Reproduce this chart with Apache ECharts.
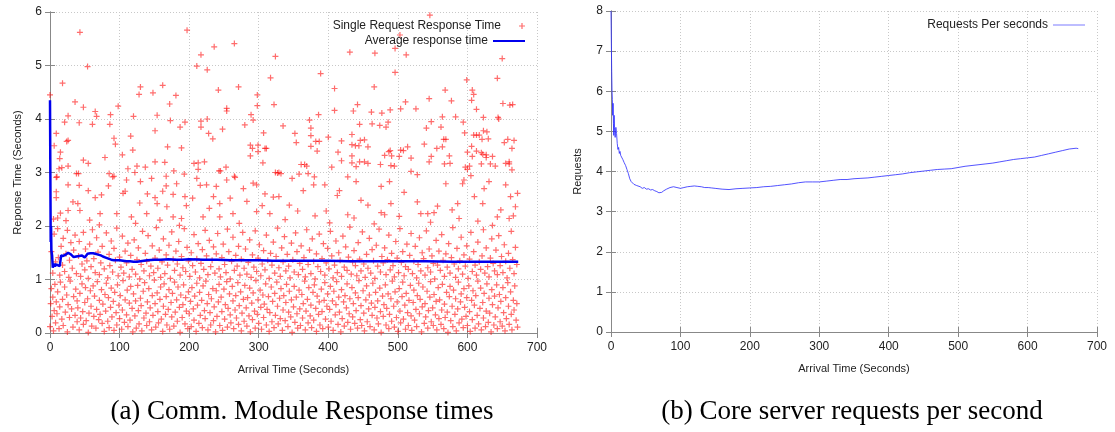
<!DOCTYPE html>
<html>
<head>
<meta charset="utf-8">
<script src="https://cdn.jsdelivr.net/npm/echarts@6/dist/echarts.min.js"></script>
<style>
  html, body { margin: 0; padding: 0; background: #fff; }
  #chart { width: 1115px; height: 432px; }
</style>
</head>
<body>
<div id="chart"></div>
<script>
var myChart = echarts.init(document.getElementById("chart"));

// tick labels
var xTicks = [0, 100, 200, 300, 400, 500, 600, 700];
var respTicks = [0, 1, 2, 3, 4, 5, 6];
var reqTicks = [0, 1, 2, 3, 4, 5, 6, 7, 8];

// single request response times [arrival s, response s], read by band
var respHigh = [
	[0,4.45],[43,5.62],[54,4.98],[18,4.67],[36,4.32],[48,4.22],[65,4.14],[26,4.06],[67,4.05],[21,3.94],[42,3.93],[9,3.73],[61,3.90],[6,3.50],[26,3.60],[24,3.58],[15,3.38],[14,3.26],[48,3.23],[55,3.17],[26,3.12],[17,3.09],[13,3.07],[38,2.98],[41,2.98],[9,2.91],[79,3.28],[86,3.90],[87,4.08],[98,4.24],[92,3.64],[94,3.53],[85,2.98],[92,2.93],[104,3.33],[116,3.68],[119,3.42],[120,4.05],[112,3.07],[122,3.00],[125,3.12],[137,3.10],[128,4.46],[130,4.60],[148,4.49],[162,4.63],[154,4.07],[151,3.78],[151,3.20],[165,3.19],[169,3.48],[172,4.28],[173,3.97],[181,4.44],[187,3.85],[189,3.46],[178,3.03],[167,2.93],[194,3.94],[193,2.97],[197,5.66],[207,3.17],[213,3.18],[213,3.06],[211,4.99],[217,5.20],[226,4.92],[236,5.35],[265,5.41],[217,3.85],[217,3.96],[226,4.00],[228,3.73],[222,3.20],[242,4.54],[234,3.63],[248,3.81],[254,4.15],[254,4.20],[271,4.60],[243,3.03],[245,3.03],[253,3.10],[265,2.93],[280,3.89],[288,3.51],[291,3.45],[288,3.31],[289,4.08],[292,3.98],[298,4.45],[298,4.25],[299,3.51],[299,3.39],[307,3.74],[306,3.18],[309,3.45],[311,3.45],[317,4.77],[324,5.17],[322,4.27],[324,3.00],[327,2.99],
	[546,5.94],[431,5.25],[467,5.23],[496,5.32],[512,5.20],[503,5.57],[650,5.13],[389,4.85],[496,4.87],[599,4.73],[643,4.76],[409,4.57],[466,4.60],[568,4.54],[607,4.54],[609,4.46],[606,4.35],[545,4.38],[577,4.34],[511,4.32],[442,4.27],[409,4.16],[436,4.15],[462,4.13],[477,4.11],[489,4.17],[504,4.19],[526,4.19],[613,4.18],[651,4.29],[661,4.26],[665,4.27],[386,4.08],[373,3.98],[335,3.87],[445,3.90],[463,3.91],[474,3.88],[486,3.94],[483,3.85],[548,3.95],[564,4.04],[583,4.04],[594,3.94],[623,4.03],[644,4.03],[645,4.00],[541,3.83],[562,3.85],[375,3.83],[352,3.73],[354,3.56],[375,3.69],[375,3.49],[382,3.58],[387,3.58],[384,3.40],[400,3.66],[419,3.59],[434,3.71],[434,3.52],[414,3.38],[439,3.50],[444,3.50],[446,3.60],[452,3.61],[457,3.48],[434,3.31],[419,3.22],[445,3.20],[452,3.20],[457,3.17],[434,3.18],[405,3.10],[440,3.11],[475,3.15],[481,3.32],[487,3.39],[489,3.41],[491,3.31],[490,3.13],[495,3.12],[504,3.42],[508,3.41],[514,3.48],[502,3.30],[519,3.27],[538,3.53],[548,3.30],[556,3.45],[564,3.48],[545,3.20],[566,3.62],[569,3.62],[574,3.31],[567,3.16],[575,3.17],[596,3.74],[600,3.38],[606,3.49],[609,3.70],[613,3.70],[617,3.70],[623,3.78],[628,3.76],[621,3.62],[630,3.63],[607,3.30],[613,3.40],[620,3.37],[622,3.34],[627,3.33],[627,3.28],[636,3.30],[620,3.16],[633,3.16],[640,3.12],[658,3.62],[667,3.60],[653,3.56],[664,3.45],[655,3.17],[660,3.16],[660,3.20],[664,3.05],[597,3.10],[600,3.06],[603,3.12],[329,3.00],[332,2.98],[358,2.97],[371,2.98],[361,3.15],[369,3.12],[366,3.15]
];
var respUpper = [
	[10,2.92],[26,2.77],[42,2.76],[9,2.64],[9,2.53],[40,2.42],[43,2.29],[15,2.24],[11,2.15],[5,2.13],[23,2.10],[26,2.29],[55,2.66],[65,2.53],[74,2.58],[84,2.75],[90,2.92],[105,2.61],[108,2.65],[129,2.43],[140,2.60],[151,2.53],[154,2.42],[162,2.65],[167,2.75],[177,2.59],[194,2.55],[196,2.38],[205,2.52],[216,2.76],[225,2.77],[239,2.74],[235,2.55],[244,2.42],[259,2.52],[266,2.91],[278,2.70],[292,2.80],[297,2.77],[283,2.46],[309,2.60],[321,2.54],[316,2.23],[297,2.27],[263,2.23],[244,2.17],[220,2.17],[189,2.14],[177,2.17],[158,2.11],[139,2.23],[117,2.17],[96,2.23],[72,2.23],[57,2.11],[168,2.36],[182,2.79],[110,2.86],[130,2.83],[146,2.89],[211,2.89],[254,2.86],
	[329,2.55],[344,2.39],[364,2.66],[381,2.19],[395,2.77],[379,2.77],[397,2.28],[413,2.57],[416,2.66],[428,2.21],[440,2.83],[457,2.39],[476,2.25],[481,2.21],[488,2.83],[490,2.42],[509,2.63],[519,3.02],[528,2.45],[533,2.23],[543,2.23],[552,2.25],[557,2.37],[569,2.79],[586,2.42],[588,2.14],[593,2.79],[595,2.86],[610,2.55],[622,2.42],[624,2.70],[631,2.83],[643,2.17],[648,2.30],[655,2.77],[662,2.55],[672,2.61],[669,2.36],[660,2.14],[528,2.96],[476,2.74],[605,2.94],[447,2.48],[428,2.92],[348,2.89],[380,2.92],
	[33,2.45],[71,2.02],[123,2.05],[186,2.01],[229,2.33],[272,2.05],[305,2.38],[338,2.12],[356,2.28],[402,2.06],[437,2.15],[466,2.04],[502,2.18],[547,2.07],[578,2.30],[615,2.09],[636,2.01],[666,2.19]
];
var respMid = [
	[2,1.52],[4,1.12],[6,1.85],[8,1.33],[11,1.95],[12,1.41],[14,1.08],[16,1.62],[18,1.27],[19,1.77],[21,1.15],[23,1.48],[25,1.92],[27,1.04],[28,1.36],[30,1.69],[32,1.21],[34,1.55],[36,1.83],[38,1.11],
	[41,1.44],[42,1.71],[44,1.06],[46,1.29],[48,1.88],[50,1.18],[51,1.57],[53,1.35],[55,1.02],[57,1.66],[59,1.24],[61,1.93],[63,1.39],[65,1.13],[67,1.78],[69,1.51],[71,1.09],[73,1.31],[75,1.62],[78,1.20],
	[81,1.87],[83,1.03],[85,1.47],[86,1.26],[88,1.72],[90,1.14],[92,1.58],[94,1.36],[96,1.96],[98,1.07],[100,1.42],[102,1.23],[104,1.81],[106,1.12],[108,1.53],[110,1.31],[112,1.68],[114,1.05],[116,1.45],[118,1.19],
	[121,1.74],[123,1.10],[125,1.37],[127,1.59],[129,1.01],[131,1.28],[133,1.90],[135,1.16],[137,1.49],[139,1.34],[141,1.82],[143,1.07],[145,1.25],[147,1.63],[149,1.13],[151,1.40],[153,1.97],[155,1.21],[157,1.55],[159,1.04],
	[161,1.33],[163,1.76],[165,1.11],[167,1.46],[169,1.27],[171,1.64],[173,1.02],[175,1.89],[177,1.38],[179,1.17],[181,1.53],[183,1.29],[185,1.71],[187,1.08],[189,1.43],[191,1.22],[193,1.95],[195,1.15],[197,1.60],[199,1.35],
	[201,1.06],[203,1.50],[205,1.26],[207,1.84],[209,1.14],[211,1.39],[213,1.67],[215,1.03],[217,1.30],[219,1.56],[221,1.19],[223,1.92],[225,1.44],[227,1.09],[229,1.73],[231,1.24],[233,1.36],[235,1.61],[237,1.12],[239,1.48],
	[241,1.86],[243,1.20],[245,1.05],[247,1.41],[249,1.66],[251,1.28],[253,1.13],[255,1.94],[257,1.52],[259,1.01],[261,1.34],[263,1.79],[265,1.17],[267,1.45],[269,1.25],[271,1.62],[273,1.08],[275,1.38],[277,1.88],[279,1.21],
	[281,1.57],[283,1.10],[285,1.32],[287,1.74],[289,1.04],[291,1.46],[293,1.23],[295,1.91],[297,1.15],[299,1.40],[301,1.65],[303,1.07],[305,1.29],[307,1.54],[309,1.18],[311,1.83],[313,1.36],[315,1.02],[317,1.49],[319,1.27],
	[321,1.70],[323,1.12],[325,1.43],[327,1.96],[329,1.22],[331,1.06],[333,1.59],[335,1.33],[337,1.80],[339,1.16],[341,1.47],[343,1.25],[345,1.03],[347,1.68],[349,1.37],[351,1.14],[353,1.87],[355,1.52],[357,1.09],[359,1.30],
	[361,1.63],[363,1.19],[365,1.41],[367,1.05],[369,1.93],[371,1.28],[373,1.55],[375,1.11],[377,1.76],[379,1.34],[381,1.01],[383,1.48],[385,1.24],[387,1.85],[389,1.15],[391,1.39],[393,1.67],[395,1.08],[397,1.31],[399,1.58],
	[401,1.20],[403,1.90],[405,1.44],[407,1.03],[409,1.27],[411,1.72],[413,1.13],[415,1.50],[417,1.36],[419,1.06],[421,1.81],[423,1.23],[425,1.61],[427,1.17],[429,1.42],[431,1.98],[433,1.10],[435,1.33],[437,1.54],[439,1.26],
	[441,1.07],[443,1.69],[445,1.38],[447,1.16],[449,1.89],[451,1.29],[453,1.04],[455,1.47],[457,1.21],[459,1.77],[461,1.12],[463,1.56],[465,1.35],[467,1.02],[469,1.64],[471,1.25],[473,1.94],[475,1.14],[477,1.43],[479,1.31],
	[481,1.59],[483,1.09],[485,1.37],[487,1.83],[489,1.18],[491,1.49],[493,1.26],[495,1.05],[497,1.71],[499,1.40],[501,1.13],[503,1.95],[505,1.32],[507,1.52],[509,1.07],[511,1.24],[513,1.66],[515,1.19],[517,1.45],[519,1.86],
	[521,1.11],[523,1.34],[525,1.62],[527,1.03],[529,1.28],[531,1.78],[533,1.16],[535,1.50],[537,1.39],[539,1.08],[541,1.91],[543,1.22],[545,1.57],[547,1.14],[549,1.44],[551,1.30],[553,1.01],[555,1.73],[557,1.27],[559,1.53],
	[561,1.17],[563,1.84],[565,1.36],[567,1.06],[569,1.48],[571,1.23],[573,1.67],[575,1.12],[577,1.41],[579,1.97],[581,1.29],[583,1.04],[585,1.58],[587,1.20],[589,1.35],[591,1.79],[593,1.10],[595,1.46],[597,1.25],[599,1.63],
	[601,1.02],[603,1.38],[605,1.88],[607,1.15],[609,1.52],[611,1.27],[613,1.08],[615,1.70],[617,1.33],[619,1.19],[621,1.44],[623,1.93],[625,1.12],[627,1.59],[629,1.24],[631,1.05],[633,1.40],[635,1.76],[637,1.30],[639,1.16],
	[641,1.55],[643,1.09],[645,1.82],[647,1.26],[649,1.43],[651,1.13],[653,1.65],[655,1.34],[657,1.03],[659,1.49],[661,1.21],[663,1.90],[665,1.37],[667,1.11],[669,1.60],[671,1.28]
];
var respLow = [
	[0,0.12],[1,0.55],[2,0.83],[3,0.31],[4,0.67],[5,0.04],[6,0.42],[7,0.91],[8,0.19],[9,0.58],[10,0.36],[11,0.77],[13,0.08],[14,0.49],[15,0.95],[17,0.26],[18,0.63],[19,0.14],[21,0.86],[22,0.39],[24,0.71],[25,0.02],[26,0.53],[28,0.29],[29,0.97],[31,0.45],[33,0.11],[34,0.68],[36,0.33],[37,0.82],[39,0.21],[39,0.60],
	[40,0.47],[42,0.06],[43,0.74],[44,0.28],[46,0.92],[47,0.40],[48,0.16],[50,0.57],[51,0.85],[52,0.23],[54,0.64],[55,0.01],[56,0.37],[58,0.79],[59,0.50],[60,0.13],[62,0.88],[63,0.31],[64,0.69],[66,0.09],[67,0.44],[68,0.96],[70,0.25],[71,0.61],[72,0.35],[74,0.81],[75,0.18],[76,0.54],[78,0.03],[79,0.72],
	[80,0.41],[81,0.93],[83,0.22],[84,0.66],[85,0.10],[87,0.48],[88,0.84],[89,0.30],[91,0.59],[92,0.05],[93,0.76],[95,0.38],[96,0.15],[97,0.90],[99,0.52],[100,0.27],[101,0.70],[103,0.07],[104,0.43],[105,0.98],[107,0.20],[108,0.62],[110,0.34],[111,0.80],[112,0.12],[114,0.56],[115,0.24],[116,0.87],[118,0.46],[119,0.02],
	[120,0.73],[122,0.32],[123,0.60],[124,0.09],[126,0.89],[127,0.42],[128,0.17],[130,0.65],[131,0.51],[132,0.04],[134,0.78],[135,0.28],[136,0.94],[138,0.37],[139,0.14],[140,0.58],[142,0.83],[143,0.21],[144,0.47],[146,0.06],[147,0.70],[148,0.33],[150,0.99],[151,0.55],[152,0.11],[154,0.75],[155,0.40],[156,0.19],[158,0.63],[159,0.86],
	[160,0.26],[162,0.03],[163,0.50],[164,0.92],[166,0.35],[167,0.68],[168,0.15],[170,0.44],[171,0.81],[172,0.07],[174,0.57],[175,0.30],[176,0.74],[178,0.13],[179,0.95],[180,0.39],[182,0.62],[183,0.22],[184,0.86],[186,0.48],[187,0.01],[188,0.71],[190,0.29],[191,0.53],[192,0.90],[194,0.17],[195,0.66],[196,0.41],[198,0.08],[199,0.77],
	[200,0.36],[202,0.59],[203,0.12],[204,0.85],[206,0.45],[207,0.24],[208,0.69],[210,0.03],[211,0.93],[212,0.52],[214,0.18],[215,0.76],[216,0.33],[218,0.61],[219,0.10],[220,0.88],[222,0.42],[223,0.27],[224,0.97],[226,0.55],[227,0.06],[228,0.72],[230,0.38],[231,0.15],[232,0.64],[234,0.83],[235,0.23],[236,0.49],[238,0.02],[239,0.79],
	[240,0.31],[242,0.58],[243,0.91],[244,0.14],[246,0.67],[247,0.40],[248,0.05],[250,0.82],[251,0.26],[252,0.53],[254,0.96],[255,0.11],[256,0.46],[258,0.73],[259,0.34],[260,0.19],[262,0.87],[263,0.60],[264,0.08],[266,0.43],[267,0.70],[268,0.28],[270,0.94],[271,0.16],[272,0.51],[274,0.77],[275,0.04],[276,0.37],[278,0.63],[279,0.22],
	[280,0.89],[282,0.47],[283,0.13],[284,0.66],[286,0.32],[287,0.84],[288,0.02],[290,0.56],[291,0.25],[292,0.75],[294,0.41],[295,0.09],[296,0.98],[298,0.35],[299,0.62],[300,0.18],[302,0.80],[303,0.48],[304,0.07],[306,0.71],[307,0.29],[308,0.54],[310,0.92],[311,0.15],[312,0.44],[314,0.68],[315,0.03],[316,0.38],[318,0.86],[319,0.21],
	[320,0.59],[322,0.10],[323,0.74],[324,0.33],[326,0.95],[327,0.50],[328,0.17],[330,0.65],[331,0.27],[332,0.83],[334,0.05],[335,0.43],[336,0.70],[338,0.23],[339,0.57],[340,0.91],[342,0.12],[343,0.39],[344,0.78],[346,0.30],[347,0.62],[348,0.01],[350,0.49],[351,0.87],[352,0.20],[354,0.67],[355,0.36],[356,0.09],[358,0.80],[359,0.45],
	[360,0.14],[362,0.72],[363,0.28],[364,0.55],[366,0.97],[367,0.06],[368,0.41],[370,0.63],[371,0.19],[372,0.85],[374,0.32],[375,0.52],[376,0.10],[378,0.76],[379,0.24],[380,0.90],[382,0.46],[383,0.03],[384,0.69],[386,0.35],[387,0.58],[388,0.15],[390,0.82],[391,0.40],[392,0.08],[394,0.61],[395,0.94],[396,0.26],[398,0.50],[399,0.73],
	[400,0.11],[402,0.44],[403,0.87],[404,0.22],[406,0.60],[407,0.05],[408,0.78],[410,0.34],[411,0.53],[412,0.96],[414,0.16],[415,0.67],[416,0.39],[418,0.02],[419,0.81],[420,0.27],[422,0.58],[423,0.13],[424,0.70],[426,0.47],[427,0.92],[428,0.20],[430,0.36],[431,0.64],[432,0.07],[434,0.85],[435,0.30],[436,0.55],[438,0.18],[439,0.75],
	[440,0.42],[442,0.09],[443,0.66],[444,0.98],[446,0.25],[447,0.51],[448,0.14],[450,0.79],[451,0.37],[452,0.04],[454,0.62],[455,0.88],[456,0.21],[458,0.45],[459,0.71],[460,0.12],[462,0.56],[463,0.33],[464,0.93],[466,0.06],[467,0.48],[468,0.76],[470,0.28],[471,0.60],[472,0.17],[474,0.84],[475,0.40],[476,0.01],[478,0.69],[479,0.31],
	[480,0.53],[482,0.90],[483,0.15],[484,0.46],[486,0.73],[487,0.08],[488,0.35],[490,0.64],[491,0.22],[492,0.97],[494,0.50],[495,0.11],[496,0.77],[498,0.29],[499,0.58],[500,0.03],[502,0.83],[503,0.41],[504,0.19],[506,0.68],[507,0.95],[508,0.26],[510,0.52],[511,0.07],[512,0.74],[514,0.38],[515,0.14],[516,0.61],[518,0.89],[519,0.32],
	[520,0.05],[522,0.57],[523,0.80],[524,0.24],[526,0.44],[527,0.12],[528,0.70],[530,0.93],[531,0.36],[532,0.63],[534,0.02],[535,0.49],[536,0.86],[538,0.18],[539,0.55],[540,0.30],[542,0.78],[543,0.09],[544,0.42],[546,0.67],[547,0.96],[548,0.21],[550,0.47],[551,0.14],[552,0.72],[554,0.34],[555,0.59],[556,0.06],[558,0.85],[559,0.27],
	[560,0.62],[562,0.16],[563,0.43],[564,0.91],[566,0.08],[567,0.54],[568,0.29],[570,0.76],[571,0.39],[572,0.01],[574,0.68],[575,0.87],[576,0.23],[578,0.50],[579,0.12],[580,0.80],[582,0.35],[583,0.64],[584,0.04],[586,0.45],[587,0.95],[588,0.19],[590,0.58],[591,0.73],[592,0.26],[594,0.10],[595,0.83],[596,0.48],[598,0.31],[599,0.66],
	[600,0.14],[602,0.88],[603,0.40],[604,0.03],[606,0.61],[607,0.25],[608,0.79],[610,0.52],[611,0.09],[612,0.70],[614,0.33],[615,0.97],[616,0.17],[618,0.46],[619,0.84],[620,0.06],[622,0.57],[623,0.28],[624,0.74],[626,0.12],[627,0.41],[628,0.92],[630,0.20],[631,0.65],[632,0.37],[634,0.02],[635,0.81],[636,0.53],[638,0.15],[639,0.69],
	[640,0.30],[642,0.90],[643,0.08],[644,0.47],[646,0.72],[647,0.21],[648,0.59],[650,0.13],[651,0.85],[652,0.38],[654,0.04],[655,0.66],[656,0.27],[658,0.94],[659,0.50],[660,0.16],[662,0.77],[663,0.35],[664,0.06],[666,0.61],[667,0.43],[668,0.88],[670,0.24],[671,0.55],[672,0.11]
];

// running average response time [s, s]
var avgResp = [
	[0,4.35],[0.5,3.0],[1,1.7],[1.5,2.0],[2,1.55],[3,1.45],[4,1.22],[5,1.2],[6,1.3],[7,1.24],[8,1.28],[9,1.3],[10,1.25],[11,1.27],[12,1.3],[13,1.26],[14,1.25],[15,1.28],[16,1.45],[17,1.47],[19,1.44],[20,1.47],[22,1.46],[24,1.49],[26,1.5],[28,1.49],[30,1.47],[32,1.45],[34,1.42],[36,1.44],[38,1.43],[40,1.45],[42,1.44],[44,1.43],[46,1.45],[48,1.43],[50,1.41],[52,1.43],[54,1.48],[56,1.5],[58,1.49],[60,1.48],[62,1.49],[65,1.48],[68,1.47],[70,1.46],[73,1.45],[76,1.43],[80,1.41],[84,1.39],[88,1.37],[92,1.36],[96,1.36],[100,1.36],[105,1.35],[110,1.34],[115,1.34],[120,1.33],[125,1.33],[130,1.34],[135,1.35],[140,1.36],[150,1.37],[160,1.37],[170,1.38],[180,1.37],[190,1.37],[200,1.38],[220,1.37],[240,1.37],[260,1.36],[280,1.36],[300,1.36],[320,1.35],[340,1.35],[360,1.35],[380,1.35],[400,1.35],[430,1.34],[460,1.34],[500,1.34],[540,1.34],[580,1.33],[620,1.33],[650,1.33],[673,1.33]
];

// requests per second [s, requests]
var reqRate = [
	[0,8],[0.5,7.2],[1,6.5],[1.5,6.0],[2,5.8],[2.5,5.4],[3,5.7],[3.5,5.2],[4,4.9],[4.5,5.4],[5,5.1],[6,4.85],[7,5.1],[8,4.95],[9,4.7],[10,4.55],[11,4.6],[12,4.45],[13,4.5],[14,4.4],[15,4.42],[17,4.3],[19,4.22],[21,4.15],[23,4.05],[25,3.95],[27,3.82],[29,3.75],[31,3.72],[33,3.68],[35,3.7],[37,3.65],[39,3.63],[42,3.62],[45,3.58],[48,3.6],[51,3.56],[54,3.57],[57,3.54],[60,3.55],[63,3.52],[66,3.5],[69,3.47],[71,3.46],[73,3.48],[76,3.52],[80,3.56],[85,3.6],[90,3.62],[95,3.6],[100,3.58],[105,3.6],[110,3.62],[115,3.63],[120,3.64],[125,3.63],[130,3.62],[135,3.6],[140,3.6],[145,3.59],[150,3.58],[160,3.56],[170,3.55],[180,3.57],[190,3.58],[200,3.59],[210,3.6],[220,3.62],[230,3.63],[240,3.65],[250,3.67],[260,3.69],[270,3.72],[280,3.74],[290,3.74],[300,3.74],[310,3.76],[320,3.78],[330,3.8],[340,3.8],[350,3.82],[360,3.83],[370,3.84],[380,3.86],[390,3.88],[400,3.9],[410,3.92],[420,3.94],[430,3.97],[440,3.99],[450,4.01],[460,4.03],[470,4.05],[480,4.06],[490,4.07],[500,4.1],[510,4.13],[520,4.15],[530,4.17],[540,4.19],[550,4.21],[560,4.24],[570,4.27],[580,4.3],[590,4.32],[600,4.34],[610,4.36],[620,4.4],[630,4.44],[640,4.48],[650,4.52],[660,4.56],[670,4.58],[673,4.57]
];

var plusIcon = "path://M2,0H3V2H5V3H3V5H2V3H0V2H2Z";
var font = "Liberation Sans";

function mainX(gridIndex, name) {
	return {
		type: "value", gridIndex: gridIndex, position: "bottom",
		min: xTicks[0], max: xTicks[xTicks.length - 1], interval: 100,
		name: name, nameLocation: "middle", nameGap: 31,
		nameTextStyle: { fontFamily: font, fontSize: 11, color: "#222" },
		axisLine: { show: true, lineStyle: { color: "#888" } },
		axisTick: { inside: true, length: 5, lineStyle: { color: "#888" } },
		axisLabel: { fontFamily: font, fontSize: 12, color: "#222", margin: 9 },
		splitLine: { show: true, lineStyle: { color: "#c8c8c8", type: [1, 2] } }
	};
}
function mirrorX(gridIndex) {
	return {
		type: "value", gridIndex: gridIndex, position: "top",
		min: xTicks[0], max: xTicks[xTicks.length - 1], interval: 100,
		axisLine: { show: true, lineStyle: { color: "#888" } },
		axisTick: { inside: true, length: 5, lineStyle: { color: "#888" } },
		axisLabel: { show: false }, splitLine: { show: false }
	};
}
function mainY(gridIndex, ticks, name, gap) {
	return {
		type: "value", gridIndex: gridIndex, position: "left",
		min: ticks[0], max: ticks[ticks.length - 1], interval: 1,
		name: name, nameLocation: "middle", nameGap: gap, nameRotate: 90,
		nameTextStyle: { fontFamily: font, fontSize: 11, color: "#222" },
		axisLine: { show: true, lineStyle: { color: "#888" } },
		axisTick: { inside: true, length: 5, lineStyle: { color: "#888" } },
		axisLabel: { fontFamily: font, fontSize: 12, color: "#222", margin: 8 },
		splitLine: { show: true, lineStyle: { color: "#c8c8c8", type: [1, 2] } }
	};
}
function mirrorY(gridIndex, ticks) {
	return {
		type: "value", gridIndex: gridIndex, position: "right",
		min: ticks[0], max: ticks[ticks.length - 1], interval: 1,
		axisLine: { show: true, lineStyle: { color: "#888" } },
		axisTick: { inside: true, length: 5, lineStyle: { color: "#888" } },
		axisLabel: { show: false }, splitLine: { show: false }
	};
}

var scatterStyle = {
	type: "scatter", name: "Single Request Response Time",
	xAxisIndex: 0, yAxisIndex: 0,
	symbol: plusIcon, symbolSize: 6, silent: true,
	itemStyle: { color: "rgba(255,0,0,0.72)" }
};
var legendText = { fontFamily: font, fontSize: 12, color: "#222" };

var option = {
	animation: false,
	backgroundColor: "#fff",
	title: [
		{ text: "(a) Comm. Module Response times", left: 297, top: 393, textAlign: "center",
		  textStyle: { fontFamily: "Liberation Serif", fontSize: 27, fontWeight: "normal", color: "#000" } },
		{ text: "(b) Core server requests per second", left: 847, top: 393, textAlign: "center",
		  textStyle: { fontFamily: "Liberation Serif", fontSize: 27, fontWeight: "normal", color: "#000" } }
	],
	legend: [
		{ data: ["Single Request Response Time"], right: 585, top: 15, align: "right",
		  itemWidth: 32, itemHeight: 6, icon: plusIcon, textStyle: legendText },
		{ data: [{ name: "Average response time", icon: "rect", itemStyle: { color: "#0000ee" } }],
		  right: 585, top: 30, align: "right",
		  itemWidth: 32, itemHeight: 2, textStyle: legendText },
		{ data: [{ name: "Requests Per seconds", icon: "rect", itemStyle: { color: "rgba(90,90,255,0.8)" } }],
		  right: 25, top: 14, align: "right",
		  itemWidth: 32, itemHeight: 1, textStyle: legendText }
	],
	grid: [
		{ left: 50, right: 578, top: 12, bottom: 99 },
		{ left: 611, right: 18, top: 11, bottom: 100 }
	],
	xAxis: [mainX(0, "Arrival Time (Seconds)"), mainX(1, "Arrival Time (Seconds)"), mirrorX(0), mirrorX(1)],
	yAxis: [mainY(0, respTicks, "Reponse Time (Seconds)", 27), mainY(1, reqTicks, "Requests", 28), mirrorY(0, respTicks), mirrorY(1, reqTicks)],
	series: [
		Object.assign({}, scatterStyle, { data: respLow }),
		Object.assign({}, scatterStyle, { data: respMid }),
		Object.assign({}, scatterStyle, { data: respUpper }),
		Object.assign({}, scatterStyle, { data: respHigh }),
		{
			type: "line", name: "Average response time",
			xAxisIndex: 0, yAxisIndex: 0,
			showSymbol: false, symbol: "none", silent: true,
			lineStyle: { color: "#0000ee", width: 2.5 },
			itemStyle: { color: "#0000ee" },
			data: avgResp
		},
		{
			type: "line", name: "Requests Per seconds",
			xAxisIndex: 1, yAxisIndex: 1,
			showSymbol: false, symbol: "none", silent: true,
			lineStyle: { color: "rgba(40,40,255,0.8)", width: 1 },
			itemStyle: { color: "rgba(80,80,255,0.8)" },
			data: reqRate
		}
	]
};

myChart.setOption(option);

window.addEventListener("resize", function () {
	myChart.resize();
});
</script>
</body>
</html>
